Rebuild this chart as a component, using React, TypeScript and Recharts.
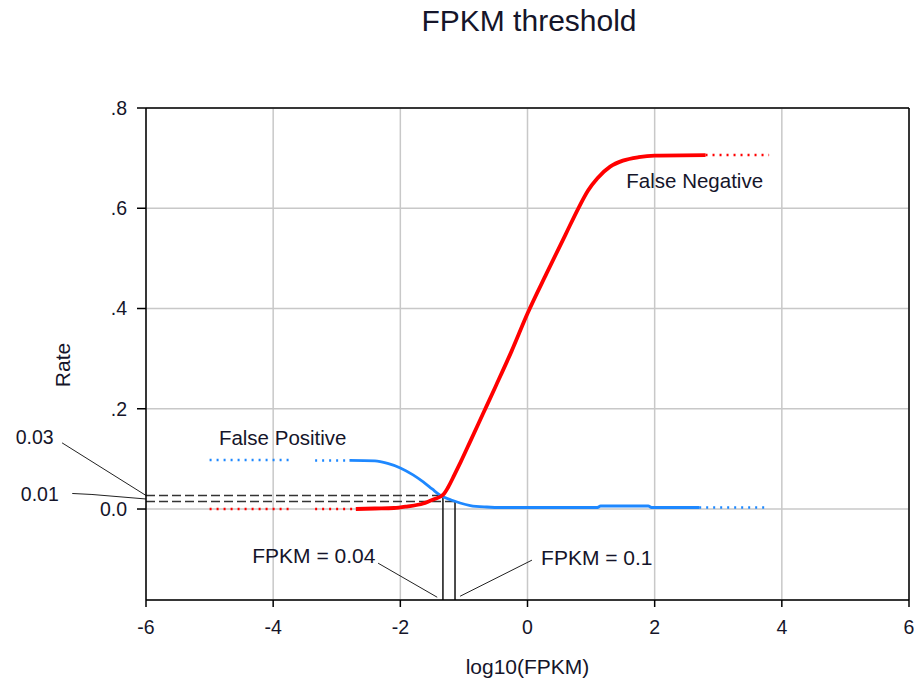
import React from 'react';
import {
  LineChart, Line, XAxis, YAxis, CartesianGrid, ReferenceLine, ReferenceDot, Label,
} from 'recharts';

// X tick labels and Y tick labels
const xTicks = [-6, -4, -2, 0, 2, 4, 6];
const yTicks = [0, 0.2, 0.4, 0.6, 0.8];
const yTickLabels = ['0.0', '.2', '.4', '.6', '.8'];

// False Positive (blue) – solid part
const fpX = [-2.8, -2.4, -2.2, -2.0, -1.8, -1.64, -1.5, -1.38, -1.2, -1.06, -0.9, -0.64, -0.4, 0, 1.1, 1.15, 1.9, 1.95, 2.7];
const fpY = [0.097, 0.096, 0.091, 0.082, 0.068, 0.054, 0.04, 0.028, 0.018, 0.012, 0.007, 0.004, 0.003, 0.003, 0.003, 0.006, 0.006, 0.003, 0.003];
// False Positive – sparse (dotted) parts
const fpSparseX = [-5.0, -3.73, -3.55, -3.34, -2.8, 0, 2.7, 3.8];
const fpSparseY = [0.098, 0.098, null, 0.097, 0.097, null, 0.003, 0.003];

// False Negative (red) – solid part
const fnX = [-2.7, -2.4, -2.1, -1.9, -1.64, -1.48, -1.33, -1.25, -1.15, -1.05, -0.9, -0.7, -0.5, -0.25, 0, 0.3, 0.6, 0.8, 0.95, 1.1, 1.3, 1.5, 1.75, 2.0, 2.8];
const fnY = [0, 0.001, 0.002, 0.005, 0.011, 0.019, 0.028, 0.043, 0.068, 0.094, 0.135, 0.19, 0.245, 0.315, 0.39, 0.47, 0.548, 0.6, 0.635, 0.66, 0.683, 0.695, 0.702, 0.705, 0.706];
// False Negative – sparse parts
const fnSparseX = [-5.0, -3.73, -3.55, -3.34, -2.7, 0, 2.8, 3.8];
const fnSparseY = [0, 0, null, 0, 0, null, 0.706, 0.706];

// Threshold annotations
const thresholdRates = [0.027, 0.015];
const thresholdLog = [-1.33, -1.14];
const thresholdLabels = ['0.03', '0.01'];
const fpkmLabels = ['FPKM = 0.04', 'FPKM = 0.1'];

const zip = (xs: number[], ys: (number | null)[]) => xs.map((x, i) => ({ x, y: ys[i] }));

const fpData = zip(fpX, fpY);
const fpSparse = zip(fpSparseX, fpSparseY);
const fnData = zip(fnX, fnY);
const fnSparse = zip(fnSparseX, fnSparseY);

const FONT = '"Liberation Sans", Arial, sans-serif';
const TXT = '#15152a';
const Y_MIN = -0.1815;

const textLabel = (value: string, size = 20.5) => ({
  value,
  position: 'center' as const,
  fill: TXT,
  fontSize: size,
  fontFamily: FONT,
});

export default function App() {
  return (
    <div style={{ position: 'absolute', left: 0, top: 0, background: '#fff' }}>
      <LineChart width={914} height={685} margin={{ top: 108, right: 5, bottom: 0, left: 0 }}>
        <text x={529} y={31} textAnchor="middle" fontSize={30} fontFamily={FONT} fill={TXT}>
          FPKM threshold
        </text>
        <text x={70} y={365} transform="rotate(-90 70 365)" textAnchor="middle" fontSize={21} fontFamily={FONT} fill={TXT}>
          Rate
        </text>
        <CartesianGrid stroke="#c8c8c8" strokeWidth={1.5} />
        <XAxis
          type="number"
          dataKey="x"
          domain={[-6, 6]}
          ticks={xTicks}
          allowDataOverflow
          height={85}
          tickSize={7}
          tickMargin={13}
          axisLine={{ stroke: '#000', strokeWidth: 1.5 }}
          tickLine={{ stroke: '#000', strokeWidth: 1.5 }}
          tick={{ fill: TXT, fontSize: 19.5, fontFamily: FONT }}
        >
          <Label value="log10(FPKM)" position="insideBottom" offset={11} fill={TXT} fontSize={21} fontFamily={FONT} />
        </XAxis>
        <YAxis
          type="number"
          dataKey="y"
          domain={[Y_MIN, 0.8]}
          ticks={yTicks}
          allowDataOverflow
          width={146}
          tickSize={9}
          tickMargin={10}
          tickFormatter={(v: number) => yTickLabels[yTicks.indexOf(v)] ?? ''}
          axisLine={{ stroke: '#000', strokeWidth: 1.5 }}
          tickLine={{ stroke: '#000', strokeWidth: 1.5 }}
          tick={{ fill: TXT, fontSize: 19.5, fontFamily: FONT }}
        />

        <ReferenceLine y={0.8} stroke="#000" strokeWidth={1.5} />
        <ReferenceLine x={6} stroke="#000" strokeWidth={1.5} />

        {/* dashed threshold lines */}
        <ReferenceLine segment={[{ x: -6, y: thresholdRates[0] }, { x: thresholdLog[0], y: thresholdRates[0] }]} stroke="#333" strokeWidth={1.5} strokeDasharray="9 4" />
        <ReferenceLine segment={[{ x: -6, y: thresholdRates[1] }, { x: thresholdLog[1], y: thresholdRates[1] }]} stroke="#333" strokeWidth={1.5} strokeDasharray="9 4" />
        {/* vertical threshold lines */}
        <ReferenceLine segment={[{ x: thresholdLog[0], y: thresholdRates[0] }, { x: thresholdLog[0], y: Y_MIN }]} stroke="#111" strokeWidth={1.5} />
        <ReferenceLine segment={[{ x: thresholdLog[1], y: thresholdRates[1] }, { x: thresholdLog[1], y: Y_MIN }]} stroke="#111" strokeWidth={1.5} />

        {/* leader lines */}
        <ReferenceLine ifOverflow="visible" segment={[{ x: -7.32, y: 0.132 }, { x: -6, y: thresholdRates[0] }]} stroke="#222" strokeWidth={1} />
        <ReferenceLine ifOverflow="visible" segment={[{ x: -7.16, y: 0.031 }, { x: -6.85, y: 0.029 }]} stroke="#222" strokeWidth={1} />
        <ReferenceLine ifOverflow="visible" segment={[{ x: -6.85, y: 0.029 }, { x: -6, y: 0.02 }]} stroke="#222" strokeWidth={1} />
        <ReferenceLine ifOverflow="visible" segment={[{ x: -2.35, y: -0.108 }, { x: -1.42, y: -0.176 }]} stroke="#222" strokeWidth={1} />
        <ReferenceLine ifOverflow="visible" segment={[{ x: -1.06, y: -0.174 }, { x: 0.07, y: -0.102 }]} stroke="#222" strokeWidth={1} />

        <Line data={fpSparse} dataKey="y" stroke="#1e88ff" strokeWidth={2.5} strokeDasharray="2 5" dot={false} isAnimationActive={false} />
        <Line data={fnSparse} dataKey="y" stroke="#ff0000" strokeWidth={2.5} strokeDasharray="2 5" dot={false} isAnimationActive={false} />
        <Line type="monotone" data={fpData} dataKey="y" stroke="#1e88ff" strokeWidth={2.8} dot={false} isAnimationActive={false} />
        <Line type="monotone" data={fnData} dataKey="y" stroke="#ff0000" strokeWidth={3.8} dot={false} isAnimationActive={false} />

        {/* text annotations */}
        <ReferenceDot ifOverflow="visible" x={-7.75} y={0.143} r={1} fill="none" stroke="none" label={textLabel(thresholdLabels[0], 19.5)} />
        <ReferenceDot ifOverflow="visible" x={-7.67} y={0.029} r={1} fill="none" stroke="none" label={textLabel(thresholdLabels[1], 19.5)} />
        <ReferenceDot ifOverflow="visible" x={-3.85} y={0.143} r={1} fill="none" stroke="none" label={textLabel('False Positive')} />
        <ReferenceDot ifOverflow="visible" x={2.63} y={0.655} r={1} fill="none" stroke="none" label={textLabel('False Negative')} />
        <ReferenceDot ifOverflow="visible" x={-3.36} y={-0.093} r={1} fill="none" stroke="none" label={textLabel(fpkmLabels[0], 21)} />
        <ReferenceDot ifOverflow="visible" x={1.09} y={-0.097} r={1} fill="none" stroke="none" label={textLabel(fpkmLabels[1], 21)} />
      </LineChart>
    </div>
  );
}
